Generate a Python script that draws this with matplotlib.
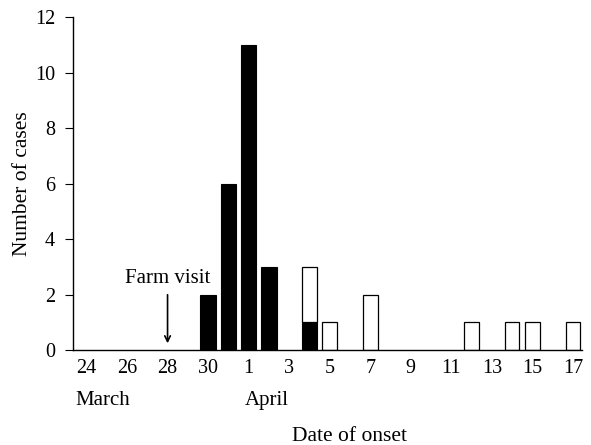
import numpy as np
import matplotlib.pyplot as plt

plt.rcParams['font.family'] = ['Liberation Serif', 'DejaVu Serif']

# days counted from 24 March (0) to 17 April (24)
tick_days = [0, 2, 4, 6, 8, 10, 12, 14, 16, 18, 20, 22, 24]
tick_labels = ['24', '26', '28', '30', '1', '3', '5', '7', '9', '11', '13', '15', '17']

# black bars (first wave)
black_days = [6, 7, 8, 9, 11]
black_cases = [2, 6, 11, 3, 1]
# white bars (secondary cases)
white_days = [11, 12, 14, 19, 21, 22, 24]
white_cases = [2, 1, 2, 1, 1, 1, 1]

farm_visit_day = 4

fig = plt.figure(figsize=(5.91, 4.45), dpi=100)
ax = fig.add_axes([0.124, 0.213, 0.861, 0.748])

ax.bar(black_days, black_cases, width=0.75, color='black', edgecolor='black', linewidth=0.8)
bottoms = [black_cases[black_days.index(d)] if d in black_days else 0 for d in white_days]
ax.bar(white_days, white_cases, width=0.72, bottom=bottoms, color='white',
       edgecolor='black', linewidth=0.9)

ax.set_xlim(-0.65, 24.45)
ax.set_ylim(0, 12)
ax.set_yticks(range(0, 13, 2))
ax.set_xticks(tick_days)
ax.set_xticklabels(tick_labels)
ax.tick_params(axis='both', labelsize=14.5, direction='out', width=0.8)
ax.tick_params(axis='x', length=0, pad=6)
ax.tick_params(axis='y', length=6, pad=7)

for side in ['top', 'right']:
    ax.spines[side].set_visible(False)
for side in ['left', 'bottom']:
    ax.spines[side].set_linewidth(1.0)

ax.set_ylabel('Number of cases', fontsize=15.5, labelpad=2)
ax.text(292 / 591, 0.018, 'Date of onset', transform=fig.transFigure, ha='left', va='center', fontsize=15.5)
ax.text(-0.55, -0.15, 'March', transform=ax.get_xaxis_transform(), ha='left', va='center', fontsize=15)
ax.text(7.8, -0.15, 'April', transform=ax.get_xaxis_transform(), ha='left', va='center', fontsize=15)

ax.annotate('', xy=(farm_visit_day, 0.15), xytext=(farm_visit_day, 2.1),
            arrowprops=dict(arrowstyle='->', color='black', lw=1.2))
ax.text(farm_visit_day, 2.6, 'Farm visit', ha='center', va='center', fontsize=15)

fig.savefig('out.png', dpi=100)
